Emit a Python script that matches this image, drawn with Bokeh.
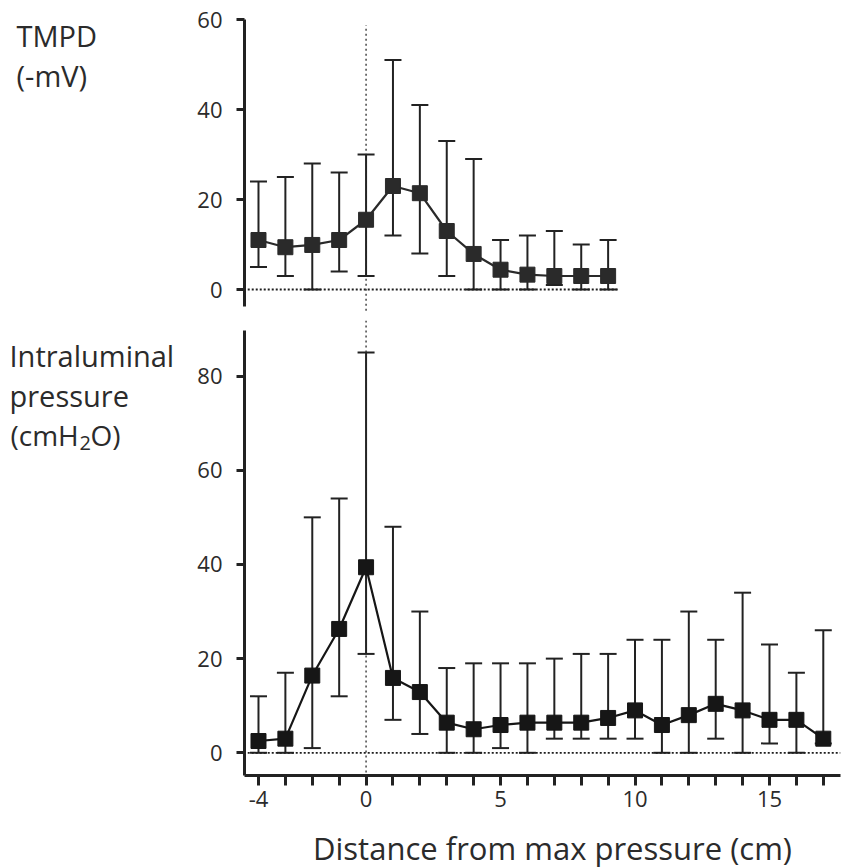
from bokeh.plotting import figure
from bokeh.layouts import column, row
from bokeh.models import ColumnDataSource, Whisker, TeeHead, FixedTicker, Label, Range1d
from bokeh.embed import file_html
from bokeh.resources import INLINE

# ---- data ----
tmpd_x = [-4, -3, -2, -1, 0, 1, 2, 3, 4, 5, 6, 7, 8, 9]
tmpd_mean = [11.0, 9.4, 9.9, 11.0, 15.5, 23.0, 21.4, 13.0, 7.9, 4.4, 3.3, 3.0, 3.0, 3.0]
tmpd_upper = [24, 25, 28, 26, 30, 51, 41, 33, 29, 11, 12, 13, 10, 11]
tmpd_lower = [5, 3, 0, 4, 3, 12, 8, 3, 0, 0, 0, 1, 0, 0]

pres_x = list(range(-4, 18))
pres_mean = [2.5, 3.0, 16.4, 26.3, 39.4, 15.9, 12.9, 6.4, 5.0, 5.9, 6.4, 6.4, 6.4, 7.4,
             9.0, 5.9, 8.0, 10.4, 9.0, 7.0, 7.0, 3.0]
pres_upper = [12, 17, 50, 54, 85, 48, 30, 18, 19, 19, 19, 20, 21, 21,
              24, 24, 30, 24, 34, 23, 17, 26]
pres_lower = [0, 0, 1, 12, 21, 7, 4, 0, 0, 1, 0, 3, 3, 3,
              3, 0, 0, 3, 0, 2, 0, 2]

x_ticks = list(range(-4, 18))
x_labelled = [-4, 0, 5, 10, 15]
tmpd_yticks = [0, 20, 40, 60]
pres_yticks = [0, 20, 40, 60, 80]

FONT = "Open Sans"
AX = "#222222"
TXT = "#2b2b2b"

X0, X1 = -4.52, 17.64
LEFT_W = 185
MAIN_W = 842 - LEFT_W
SHIFT = 11  # baseline correction for labels


def style_axis(ax, out):
    ax.axis_line_width = 3
    ax.axis_line_color = AX
    ax.major_tick_line_width = 3
    ax.major_tick_line_color = AX
    ax.major_tick_out = out
    ax.major_tick_in = 0
    ax.minor_tick_line_color = None
    ax.major_label_text_font = FONT
    ax.major_label_text_font_size = "22px"
    ax.major_label_text_color = TXT


def blank_fig(w, h):
    p = figure(width=w, height=h, output_backend="svg", toolbar_location=None,
               x_range=Range1d(0, w), y_range=Range1d(h, 0),
               min_border=0, x_axis_location=None, y_axis_location=None)
    p.outline_line_color = None
    p.grid.visible = False
    return p


def make_fig(h, ymin, ymax, top_border, bottom_border, has_x):
    p = figure(width=MAIN_W, height=h, output_backend="svg", toolbar_location=None,
               x_range=Range1d(X0, X1), y_range=Range1d(ymin, ymax),
               min_border_left=244 - LEFT_W, min_border_right=2,
               min_border_top=top_border, min_border_bottom=bottom_border,
               x_axis_location="below" if has_x else None)
    p.outline_line_color = None
    p.grid.visible = False
    return p


def draw_series(p, xs, mean, up, lo, color):
    src = ColumnDataSource(dict(x=xs, y=mean, up=up, lo=lo))
    w = Whisker(base="x", upper="up", lower="lo", source=src, dimension="height",
                line_color=AX, line_width=2, level="underlay",
                upper_head=TeeHead(size=17, line_color=AX, line_width=2),
                lower_head=TeeHead(size=17, line_color=AX, line_width=2))
    p.add_layout(w)
    p.line("x", "y", source=src, line_color=color, line_width=2.2)
    p.scatter("x", "y", source=src, marker="square", size=15,
              fill_color=color, line_color=color)


def zero_lines(p, xend, vlo, vhi):
    p.segment(x0=[-4.4], y0=[0], x1=[xend], y1=[0], line_color="#1e1e1e",
              line_width=1.8, line_dash="2 2")
    p.segment(x0=[0], y0=[vlo], x1=[0], y1=[vhi], line_color="#2a2a2a",
              line_width=1.3, line_dash="2 3")


# ---- top panel (TMPD) ----
top = make_fig(312, -5.11, 60, 19, 0, False)
top.yaxis.ticker = FixedTicker(ticks=tmpd_yticks)
top.yaxis.bounds = (-3.8, 60)
top.yaxis.major_label_standoff = 14
style_axis(top.yaxis[0], 8)
zero_lines(top, 9.4, -4.7, 58.7)
draw_series(top, tmpd_x, tmpd_mean, tmpd_upper, tmpd_lower, "#2a2a2a")

# ---- bottom panel (pressure) ----
bot = make_fig(516, -4.82, 91.8, 8, 53, True)
bot.yaxis.ticker = FixedTicker(ticks=pres_yticks)
bot.yaxis.bounds = (-4.82, 89.6)
bot.yaxis.major_label_standoff = 14
style_axis(bot.yaxis[0], 8)
bot.xaxis.ticker = FixedTicker(ticks=x_ticks)
bot.xaxis.major_label_overrides = {t: ("" if t not in x_labelled else str(t)) for t in x_ticks}
bot.xaxis.major_label_standoff = 5
style_axis(bot.xaxis[0], 10)
zero_lines(bot, X1, -4.2, 91.8)
draw_series(bot, pres_x, pres_mean, pres_upper, pres_lower, "#161616")

# ---- left titles ----
left = blank_fig(LEFT_W, 312 + 516)


def lab(p, x, y, t, size, align="left"):
    p.add_layout(Label(x=x, y=y - SHIFT, text=t, text_font=FONT, text_font_size=size,
                       text_color=TXT, text_baseline="alphabetic", text_align=align))


lab(left, 16, 46, "TMPD", "29px")
lab(left, 16, 86, "(-mV)", "29px")
lab(left, 9, 366, "Intraluminal", "29px")
lab(left, 9, 406, "pressure", "29px")
lab(left, 10, 445, "(cmH", "28px")
lab(left, 79, 453, "2", "20px")
lab(left, 90, 445, "O)", "28px")

# ---- bottom axis title ----
xlab = blank_fig(842, 40)
lab(xlab, 552, 30, "Distance from max pressure (cm)", "31px", "center")

layout = column(row(left, column(top, bot, spacing=0), spacing=0), xlab, spacing=0)
open("out.html", "w").write(file_html(layout, INLINE))
